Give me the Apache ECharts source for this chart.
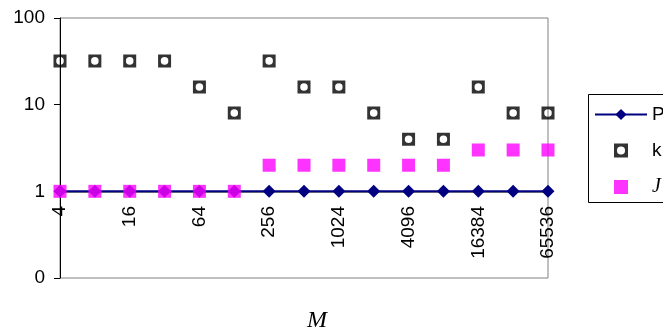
<!DOCTYPE html>
<html>
<head>
<meta charset="utf-8">
<script src="https://cdn.jsdelivr.net/npm/echarts@6/dist/echarts.min.js"></script>
<style>
  html, body { margin: 0; padding: 0; background: #fff; }
  #chart { width: 663px; height: 330px; }
</style>
</head>
<body>
<div id="chart"></div>
<script>
// Categories along the horizontal axis (values of M)
const categories = ['4', '8', '16', '32', '64', '128', '256', '512', '1024', '2048', '4096', '8192', '16384', '32768', '65536'];
// Series values
const seriesP = [1, 1, 1, 1, 1, 1, 1, 1, 1, 1, 1, 1, 1, 1, 1];
const seriesK = [32, 32, 32, 32, 16, 8, 32, 16, 16, 8, 4, 4, 16, 8, 8];
const seriesJ = [1, 1, 1, 1, 1, 1, 2, 2, 2, 2, 2, 2, 3, 3, 3];
// Log-axis tick labels
const yTickLabels = { 0.1: '0', 1: '1', 10: '10', 100: '100' };

// Black square with a round white hole
const ringSquare = 'path://M0,0L20,0L20,20L0,20Z M10,4.2A5.8,5.8 0 0 0 10,15.8A5.8,5.8 0 0 0 10,4.2Z';
// Plain filled square (path form so legend keeps it square)
const plainSquare = 'path://M0,0L20,0L20,20L0,20Z';

const chart = echarts.init(document.getElementById('chart'));
chart.setOption({
  animation: false,
  backgroundColor: '#ffffff',
  textStyle: { fontFamily: 'Liberation Sans' },
  title: {
    text: 'M',
    left: 312, top: 316,
    textAlign: 'center', textVerticalAlign: 'middle',
    textStyle: { fontFamily: 'Liberation Serif', fontStyle: 'italic', fontWeight: 'normal', fontSize: 24, color: '#000' }
  },
  // Legend frame, running off the right edge of the page
  graphic: [{
    type: 'rect',
    shape: { x: 588.5, y: 94.5, width: 140, height: 108 },
    style: { fill: 'none', stroke: '#000', lineWidth: 1 },
    silent: true
  }],
  grid: {
    left: 60, right: 115, top: 18, bottom: 52,
    show: true, borderColor: '#808080', borderWidth: 1, backgroundColor: 'transparent'
  },
  legend: {
    orient: 'vertical',
    left: 588, top: 94,
    padding: [11, 6, 8, 6],
    itemWidth: 52, itemHeight: 14, itemGap: 17,
    borderWidth: 0,
    textStyle: {
      fontSize: 19, color: '#000', fontFamily: 'Liberation Sans',
      rich: { it: { fontFamily: 'Liberation Serif', fontStyle: 'italic', fontSize: 20, color: '#000' } }
    },
    formatter: name => name === 'J' ? '{it|J}' : name,
    data: ['P', 'k', 'J']
  },
  xAxis: {
    type: 'category',
    data: categories,
    boundaryGap: false,
    position: 'bottom',
    offset: -86,
    axisLine: { show: true, lineStyle: { color: '#808080', width: 1 } },
    axisTick: { show: false },
    axisLabel: { interval: 1, rotate: 90, margin: 14, fontSize: 19, color: '#000', fontFamily: 'Liberation Sans' },
    splitLine: { show: false }
  },
  yAxis: {
    type: 'log',
    logBase: 10,
    min: 0.1, max: 100,
    axisLine: { show: true, lineStyle: { color: '#000', width: 1 } },
    axisTick: { show: true, inside: false, length: 6, lineStyle: { color: '#000' } },
    minorTick: { show: false },
    axisLabel: { fontSize: 19, color: '#000', margin: 15, formatter: v => yTickLabels[v] !== undefined ? yTickLabels[v] : '' },
    splitLine: { show: false }
  },
  series: [
    {
      name: 'P', type: 'line', data: seriesP,
      symbol: 'diamond', symbolSize: 13,
      lineStyle: { color: '#000080', width: 2 },
      itemStyle: { color: '#000080' },
      z: 2
    },
    {
      name: 'k', type: 'scatter', data: seriesK,
      symbol: ringSquare, symbolSize: 13, symbolKeepAspect: true,
      itemStyle: { color: '#000' },
      z: 3
    },
    {
      name: 'J', type: 'scatter', data: seriesJ,
      symbol: plainSquare, symbolSize: 13, symbolKeepAspect: true,
      itemStyle: { color: '#ff00ff' },
      z: 4
    }
  ]
});
</script>
</body>
</html>
